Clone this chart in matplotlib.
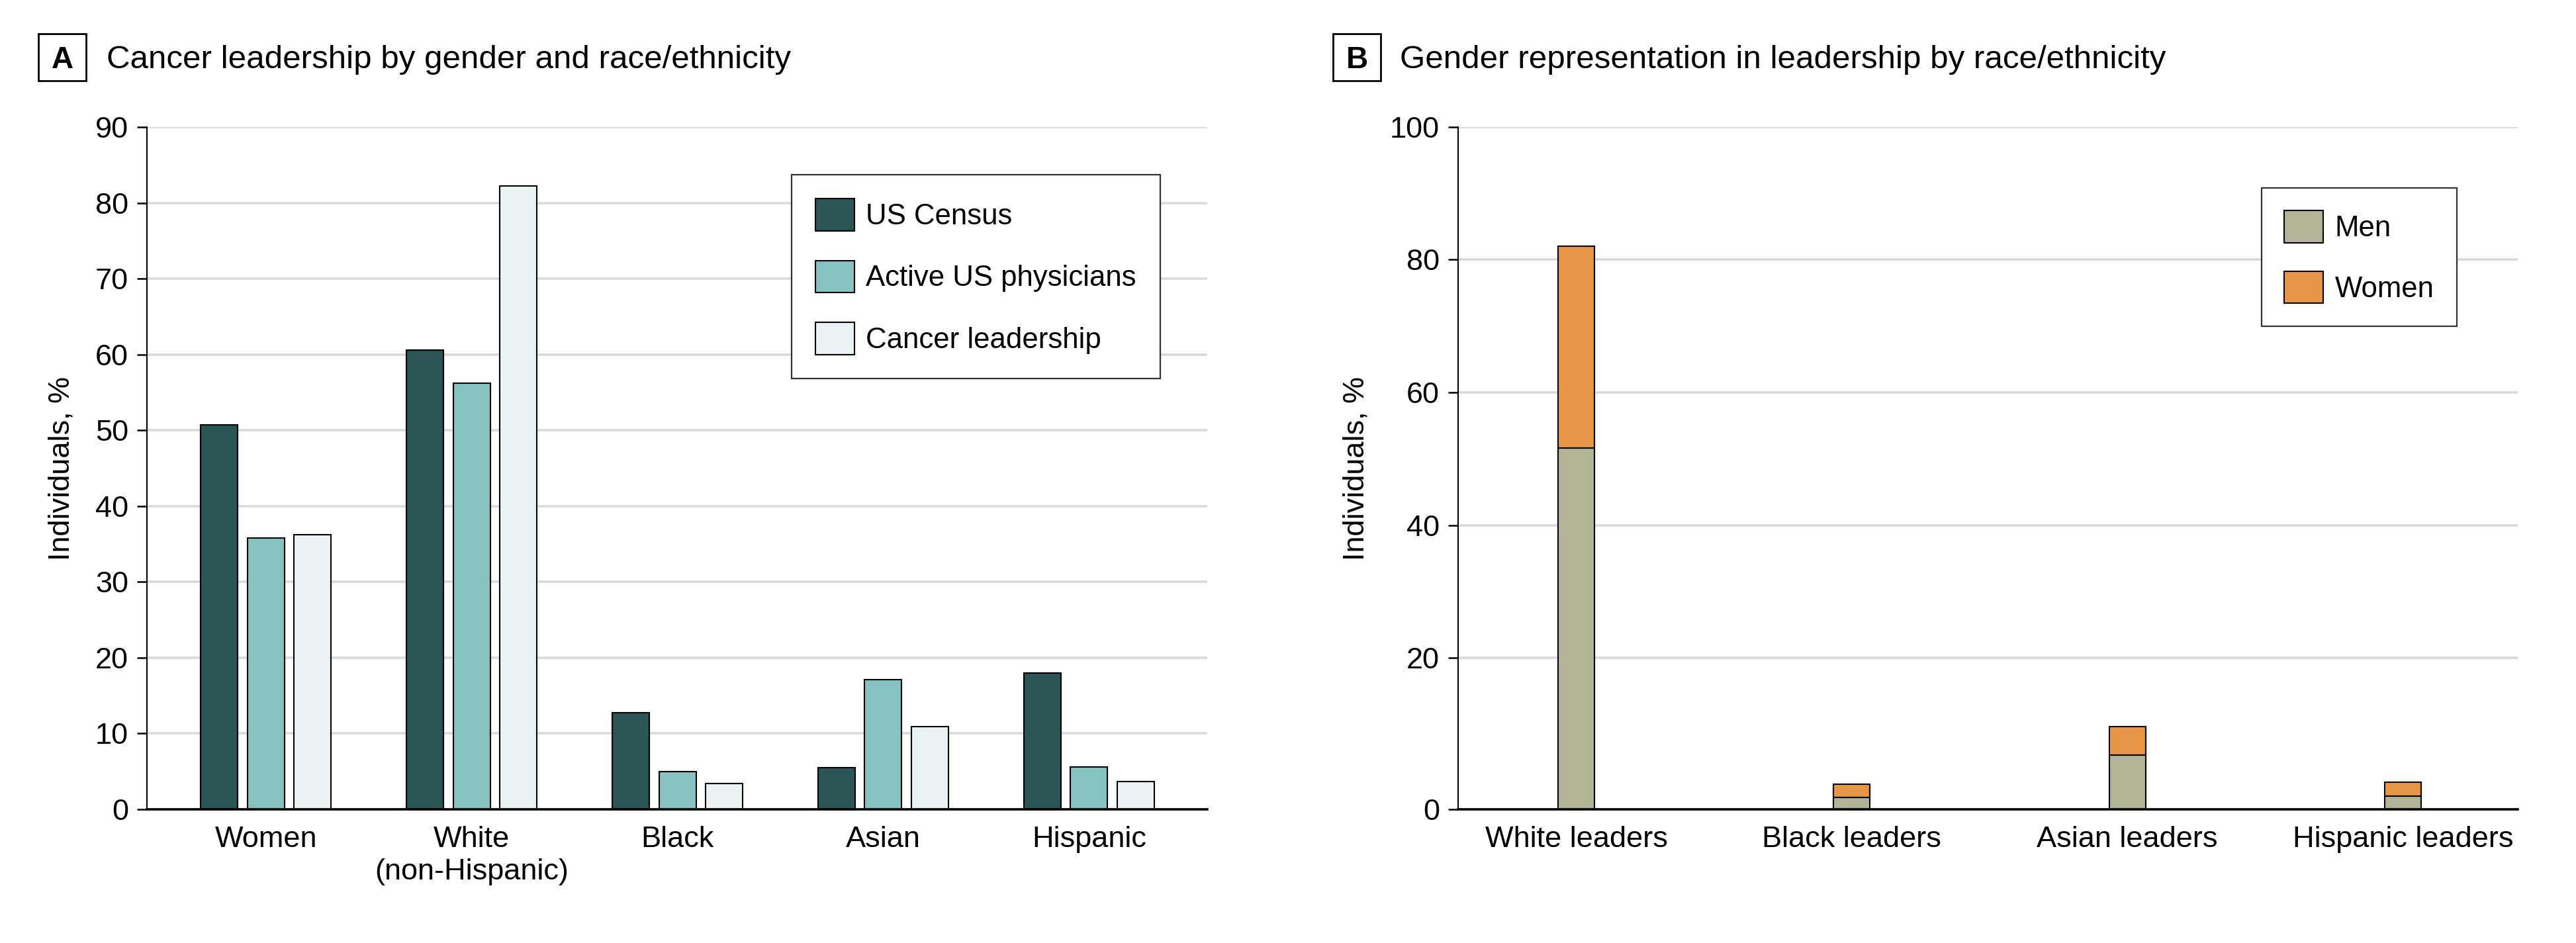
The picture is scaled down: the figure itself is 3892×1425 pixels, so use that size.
import numpy as np
import matplotlib

matplotlib.use("Agg")
import matplotlib.pyplot as plt
from matplotlib.patches import Rectangle

# -- DATA --
groups_a = ["Women", "White\n(non-Hispanic)", "Black", "Asian", "Hispanic"]
us_census = [50.7, 60.6, 12.7, 5.5, 18.0]
us_physicians = [35.8, 56.2, 5.0, 17.1, 5.6]
cancer_leaders = [36.2, 82.2, 3.4, 10.9, 3.7]

groups_b = ["White leaders", "Black leaders", "Asian leaders", "Hispanic leaders"]
men = [51.6, 1.6, 7.2, 1.7]
women = [30.4, 1.7, 3.7, 1.9]

# -- STYLE --
plt.rcParams["font.family"] = ["Liberation Sans", "DejaVu Sans"]
plt.rcParams["font.size"] = 32.5
C_CENSUS, C_PHYS, C_LEAD = "#2b5455", "#86c2c0", "#eaf3f4"
C_MEN, C_WOMEN = "#b2b496", "#e69646"
GRID = "#d9d9d9"

fig = plt.figure(figsize=(38.92, 14.25), dpi=100)
ax1 = fig.add_axes([0.0570, 0.1418, 0.4116, 0.7235])
ax2 = fig.add_axes([0.5660, 0.1418, 0.4114, 0.7235])


def style_axes(ax):
    ax.spines["top"].set_visible(False)
    ax.spines["right"].set_visible(False)
    ax.spines["left"].set_linewidth(1.5)
    ax.spines["bottom"].set_linewidth(2.6)
    ax.set_axisbelow(True)
    ax.yaxis.grid(True, color=GRID, linewidth=2.6)
    ax.tick_params(axis="y", length=11, width=1.8, pad=9)
    ax.tick_params(axis="x", length=0, pad=18)
    ax.set_ylabel("Individuals, %", labelpad=22)


# PANEL A: grouped bars
x = np.arange(len(groups_a))
w, step = 0.180, 0.2265
bar_kw = dict(width=w, edgecolor="black", linewidth=1.5)
ax1.bar(x - step, us_census, color=C_CENSUS, label="US Census", **bar_kw)
ax1.bar(x, us_physicians, color=C_PHYS, label="Active US physicians", **bar_kw)
ax1.bar(x + step, cancer_leaders, color=C_LEAD, label="Cancer leadership", **bar_kw)
ax1.set_xlim(-0.579, 4.574)
ax1.set_ylim(0, 90)
ax1.set_yticks(np.arange(0, 91, 10))
ax1.set_xticks(x)
ax1.set_xticklabels(groups_a, linespacing=1.25)
style_axes(ax1)


# PANEL B: stacked bars, original artwork stretches the 0-20 band
k = 1.1416


def fwd(v):
    v = np.asarray(v, dtype=float)
    return np.where(v < 20, v * k, 20 * k + (v - 20))


def inv(u):
    u = np.asarray(u, dtype=float)
    return np.where(u < 20 * k, u / k, u - 20 * k + 20)


xb = np.arange(len(groups_b))
ax2.set_yscale("function", functions=(fwd, inv))
ax2.bar(xb, men, width=0.132, color=C_MEN, edgecolor="black", linewidth=1.5, label="Men")
ax2.bar(xb, women, bottom=men, width=0.132, color=C_WOMEN, edgecolor="black",
        linewidth=1.5, label="Women")
ax2.set_xlim(-0.429, 3.417)
ax2.set_ylim(0, 100)
ax2.set_yticks(np.arange(0, 101, 20))
ax2.set_yticklabels([str(v) for v in range(0, 101, 20)])
ax2.yaxis.set_minor_locator(matplotlib.ticker.NullLocator())
ax2.set_xticks(xb)
ax2.set_xticklabels(groups_b)
style_axes(ax2)

# legends
leg_kw = dict(frameon=True, fancybox=False, framealpha=1, edgecolor="#333333",
              fontsize=31.5, handlelength=1.35, handleheight=1.33,
              handletextpad=0.4, borderaxespad=0)
lg1 = ax1.legend(loc="upper right", bbox_to_anchor=(0.9557, 0.930),
                 labelspacing=1.03, borderpad=0.82, **leg_kw)
lg2 = ax2.legend(loc="upper right", bbox_to_anchor=(0.9425, 0.9108),
                 labelspacing=0.99, borderpad=0.78, **leg_kw)
for lg in (lg1, lg2):
    lg.get_frame().set_linewidth(1.6)

# panel headers with boxed letters
W, H = 3892.0, 1425.0
for letter, bx, tx, title in [
    ("A", 58, 161, "Cancer leadership by gender and race/ethnicity"),
    ("B", 2014, 2115, "Gender representation in leadership by race/ethnicity"),
]:
    fig.patches.append(Rectangle((bx / W, 1 - 122 / H), 72 / W, 71 / H,
                                 transform=fig.transFigure, fill=False,
                                 edgecolor="black", linewidth=2))
    fig.text((bx + 36) / W, 1 - 103 / H, letter, ha="center", va="baseline",
             fontweight="bold", fontsize=33)
    fig.text(tx / W, 1 - 103 / H, title, ha="left", va="baseline", fontsize=35.5)

fig.savefig("out.png", dpi=100)
